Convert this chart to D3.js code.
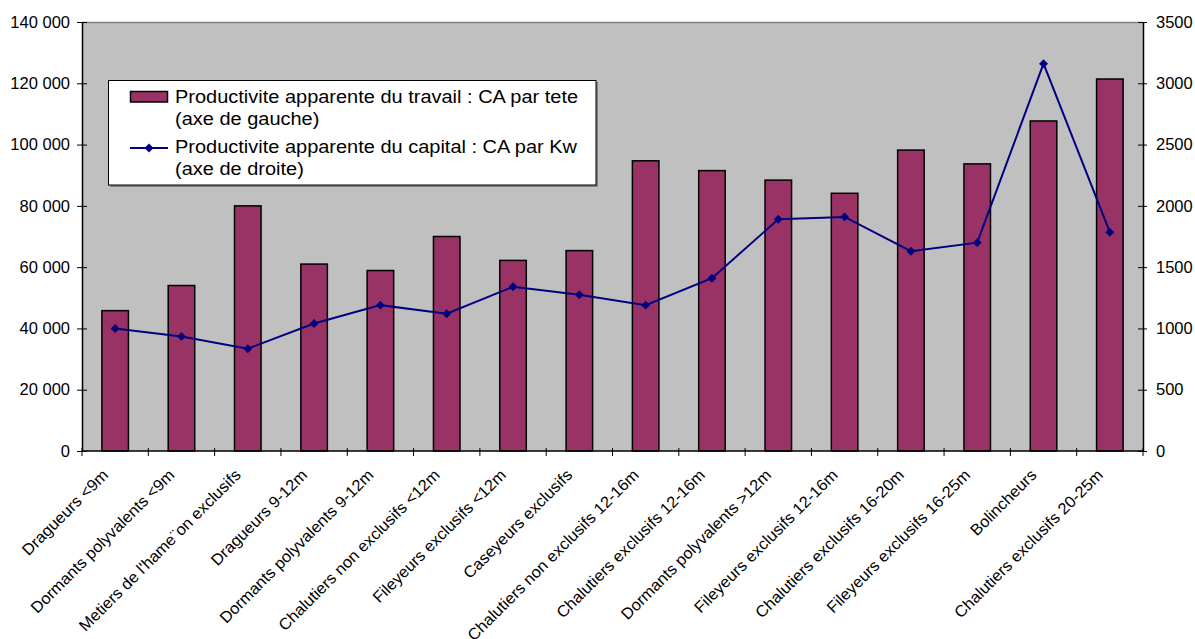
<!DOCTYPE html>
<html>
<head>
<meta charset="utf-8">
<script src="https://cdn.jsdelivr.net/npm/d3@7"></script>
<style>
  html, body { margin: 0; padding: 0; background: #ffffff; }
  svg { display: block; font-family: "Liberation Sans", Arial, sans-serif; }
</style>
</head>
<body>
<svg id="chart" width="1195" height="639"></svg>
<script>
// Fleet segments
const categories = [
  "Dragueurs <9m",
  "Dormants polyvalents <9m",
  "Metiers de l'hame¨on exclusifs",
  "Dragueurs 9-12m",
  "Dormants polyvalents 9-12m",
  "Chalutiers non exclusifs <12m",
  "Fileyeurs exclusifs <12m",
  "Caseyeurs exclusifs",
  "Chalutiers non exclusifs 12-16m",
  "Chalutiers exclusifs 12-16m",
  "Dormants polyvalents >12m",
  "Fileyeurs exclusifs 12-16m",
  "Chalutiers exclusifs 16-20m",
  "Fileyeurs exclusifs 16-25m",
  "Bolincheurs",
  "Chalutiers exclusifs 20-25m"
];

// Turnover per worker (left axis)
const caParTete = [45800, 54000, 80000, 61000, 58900, 70000, 62200, 65400,
                   94700, 91500, 88400, 84100, 98200, 93700, 107700, 121400];

// Turnover per kW (right axis)
const caParKw = [1000, 935, 835, 1040, 1190, 1120, 1340, 1275,
                 1190, 1410, 1890, 1910, 1630, 1700, 3160, 1785];

const leftTicks = [0, 20000, 40000, 60000, 80000, 100000, 120000, 140000];
const rightTicks = [0, 500, 1000, 1500, 2000, 2500, 3000, 3500];

const legendLabels = [
  ["Productivite apparente du travail : CA par tete", "(axe de gauche)"],
  ["Productivite apparente du capital : CA par Kw", "(axe de droite)"]
];

const svg = d3.select("#chart");
const plot = { left: 82, right: 1143, top: 22, bottom: 451 };

const x = d3.scaleBand()
  .domain(categories)
  .range([plot.left, plot.right])
  .paddingInner(0.6)
  .paddingOuter(0.3);

const yL = d3.scaleLinear().domain([0, 140000]).range([plot.bottom, plot.top]);
const yR = d3.scaleLinear().domain([0, 3500]).range([plot.bottom, plot.top]);

const fmtLeft = v => d3.format(",")(v).replace(/,/g, " ");
const cx = d => x(d) + x.bandwidth() / 2;

// plot background
svg.append("rect")
  .attr("x", plot.left).attr("y", plot.top)
  .attr("width", plot.right - plot.left).attr("height", plot.bottom - plot.top)
  .attr("fill", "#c0c0c0");
svg.append("line")
  .attr("x1", plot.left).attr("x2", plot.right)
  .attr("y1", plot.top + 0.5).attr("y2", plot.top + 0.5)
  .attr("stroke", "#808080").attr("stroke-width", 1.5);

// bars
svg.append("g").selectAll("rect")
  .data(categories)
  .join("rect")
  .attr("x", d => x(d))
  .attr("y", (d, i) => yL(caParTete[i]))
  .attr("width", x.bandwidth())
  .attr("height", (d, i) => yL(0) - yL(caParTete[i]))
  .attr("fill", "#993366")
  .attr("stroke", "#000")
  .attr("stroke-width", 1.5);

// left axis
const gL = svg.append("g").attr("transform", `translate(${plot.left},0)`)
  .call(d3.axisLeft(yL).tickValues(leftTicks).tickFormat(fmtLeft).tickSizeInner(5).tickSizeOuter(0).tickPadding(7));
gL.selectAll(".tick line").attr("x2", -5).attr("x1", 5);
gL.selectAll("text").attr("font-size", 16.5).attr("fill", "#000");
gL.select(".domain").attr("stroke", "#000").attr("stroke-width", 1.5);

// right axis
const gR = svg.append("g").attr("transform", `translate(${plot.right},0)`)
  .call(d3.axisRight(yR).tickValues(rightTicks).tickFormat(d3.format("d")).tickSizeInner(5).tickSizeOuter(0).tickPadding(8));
gR.selectAll(".tick line").attr("x1", -5).attr("x2", 4);
gR.selectAll("text").attr("font-size", 16.5).attr("fill", "#000");
gR.select(".domain").attr("stroke", "#000").attr("stroke-width", 1.5);

// bottom axis: ticks between categories
const bounds = categories.map(d => cx(d) - x.step() / 2).concat([plot.right]);
svg.append("line")
  .attr("x1", plot.left).attr("x2", plot.right)
  .attr("y1", plot.bottom).attr("y2", plot.bottom)
  .attr("stroke", "#000").attr("stroke-width", 1.5);
svg.append("g").selectAll("line")
  .data(bounds)
  .join("line")
  .attr("x1", d => d).attr("x2", d => d)
  .attr("y1", plot.bottom - 3).attr("y2", plot.bottom + 5)
  .attr("stroke", "#000").attr("stroke-width", 1);

// category labels, slanted
svg.append("g").selectAll("text")
  .data(categories)
  .join("text")
  .attr("transform", d => `translate(${cx(d) - 6},476) rotate(-45) scale(1.03,1)`)
  .attr("text-anchor", "end")
  .attr("font-size", 16)
  .attr("fill", "#000")
  .text(d => d);

// line series on the right axis
const line = d3.line()
  .x((d, i) => cx(categories[i]))
  .y(d => yR(d));
svg.append("path")
  .datum(caParKw)
  .attr("d", line)
  .attr("fill", "none")
  .attr("stroke", "#000080")
  .attr("stroke-width", 2);

// diamond markers: squares turned by 45 degrees
const marker = d3.symbol().type(d3.symbolSquare).size(40);
svg.append("g").selectAll("path")
  .data(caParKw)
  .join("path")
  .attr("transform", (d, i) => `translate(${cx(categories[i])},${yR(d)}) rotate(45)`)
  .attr("d", marker)
  .attr("fill", "#000080");

// legend
const lg = svg.append("g");
lg.append("rect")
  .attr("x", 110).attr("y", 82).attr("width", 488).attr("height", 105)
  .attr("fill", "#808080");
lg.append("rect")
  .attr("x", 108.5).attr("y", 80.5).attr("width", 487.5).attr("height", 104.5)
  .attr("fill", "#fff").attr("stroke", "#000").attr("stroke-width", 1);

lg.append("rect")
  .attr("x", 130.5).attr("y", 91.5).attr("width", 37).attr("height", 10.5)
  .attr("fill", "#993366").attr("stroke", "#000").attr("stroke-width", 1.5);
lg.append("line")
  .attr("x1", 130).attr("x2", 168).attr("y1", 148).attr("y2", 148)
  .attr("stroke", "#000080").attr("stroke-width", 2);
lg.append("path")
  .attr("transform", "translate(149,148) rotate(45)")
  .attr("d", marker)
  .attr("fill", "#000080");

const baselines = [[103, 124.5], [153, 175]];
legendLabels.forEach((lines, k) => {
  lines.forEach((t, j) => {
    lg.append("text")
      .attr("transform", `translate(175,${baselines[k][j]}) scale(1.08,1)`)
      .attr("font-size", 18.5)
      .attr("fill", "#000")
      .text(t);
  });
});
</script>
</body>
</html>
